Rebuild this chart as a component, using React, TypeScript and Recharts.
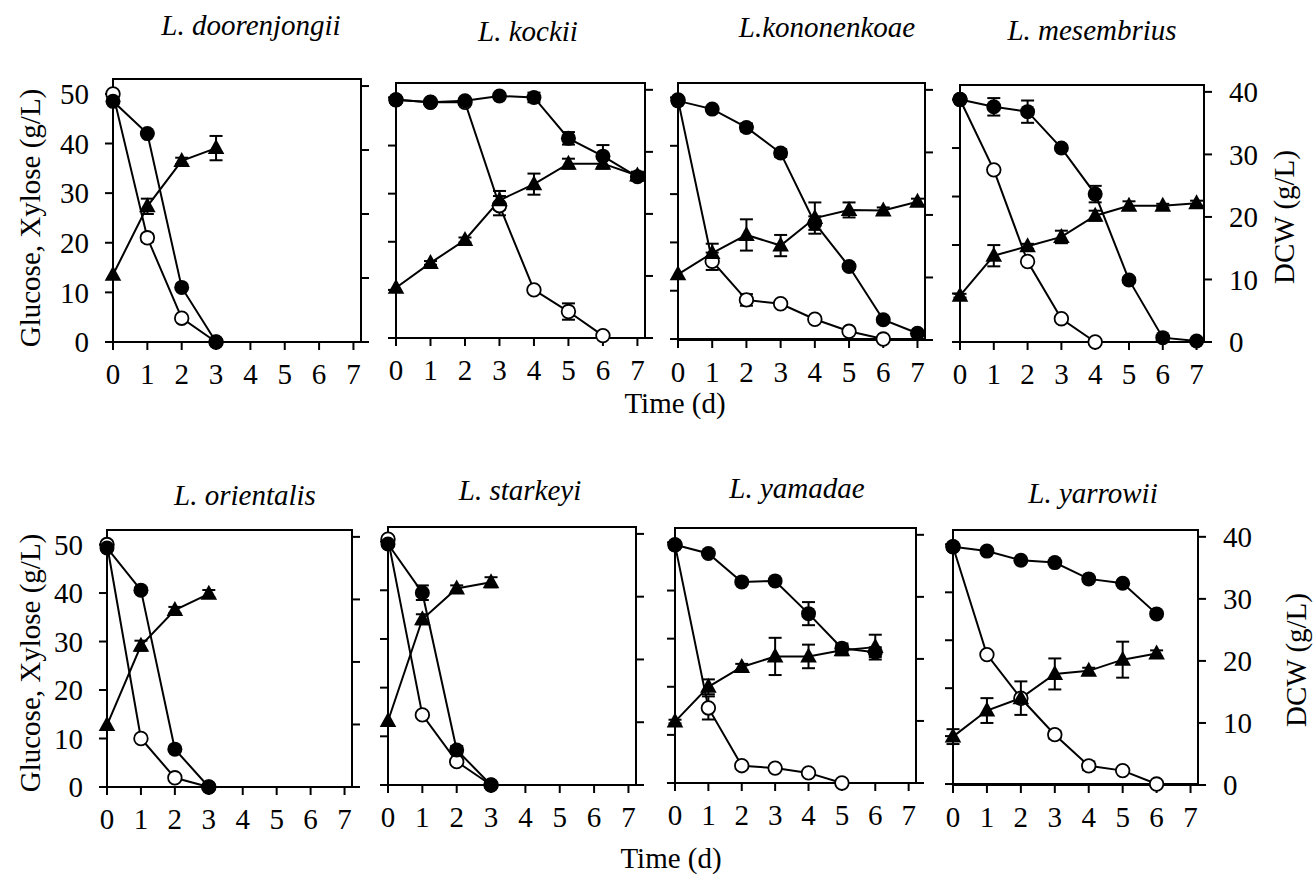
import React from 'react';
import { ComposedChart, Line, XAxis, YAxis, ErrorBar, ReferenceArea } from 'recharts';

const FONT = '"Liberation Serif", "Times New Roman", serif';

const days = [0, 1, 2, 3, 4, 5, 6, 7];
const dayTicks = [0, 1, 2, 3, 4, 5, 6, 7];
const sugarTicks = [0, 10, 20, 30, 40, 50];
const dcwTicks = [0, 10, 20, 30, 40];

// L. doorenjongii
const doorGlc = [50, 21, 4.8, 0];
const doorGlcErr = [0, 0.8, 0, 0];
const doorXyl = [48.5, 42, 11, 0];
const doorXylErr = [0, 0, 0, 0];
const doorDcw = [10.5, 21.2, 28.3, 30.3];
const doorDcwErr = [0, 1.2, 0.5, 1.9];

// L. kockii
const kockGlc = [49.5, 49, 49, 27.5, 10, 5.5, 0.5];
const kockGlcErr = [0, 0, 0, 2, 0.3, 1.7, 0.3];
const kockXyl = [49.5, 49, 49.3, 50.3, 50, 41.5, 37.8, 33.5];
const kockXylErr = [0, 0.3, 0.3, 0, 1, 1.3, 2.3, 0.8];
const kockDcw = [8.1, 12.1, 15.8, 22.2, 24.8, 28.1, 28.1, 26.2];
const kockDcwErr = [0, 0.3, 0.4, 1.5, 1.7, 0.8, 0.8, 0.6];

// L. kononenkoae
const konoGlc = [49.5, 16.1, 8.1, 7.3, 4.1, 1.6, 0];
const konoGlcErr = [0, 1.8, 1.2, 0.3, 0.3, 0.3, 0.2];
const konoXyl = [49.3, 47.6, 43.8, 38.5, 24, 15, 4, 1.2];
const konoXylErr = [0, 0.3, 0.8, 0.8, 1.4, 0.5, 0.5, 0.3];
const konoDcw = [10.5, 13.9, 16.8, 15.1, 19.5, 20.8, 20.7, 22.1];
const konoDcwErr = [0, 1.5, 2.5, 1.7, 2.5, 1.2, 0.5, 0.5];

// L. mesembrius
const mesGlc = [50, 35.5, 16.6, 4.8, 0];
const mesGlcErr = [0, 0.3, 0, 0.3, 0];
const mesXyl = [50, 48.5, 47.5, 40, 30.5, 12.8, 0.9, 0.2];
const mesXylErr = [0, 1.8, 2.3, 0.5, 1.7, 0.5, 0.3, 0];
const mesDcw = [7.4, 13.8, 15.3, 16.8, 20.2, 21.8, 21.8, 22.2];
const mesDcwErr = [0.3, 1.7, 0.4, 1, 0.8, 0.7, 0.3, 0.4];

// L. orientalis
const oriGlc = [50, 10, 1.9, 0];
const oriGlcErr = [0, 0, 0.3, 0];
const oriXyl = [49.3, 40.6, 7.8, 0];
const oriXylErr = [0, 0.5, 0.3, 0];
const oriDcw = [9.9, 22.6, 28.3, 30.9];
const oriDcwErr = [0, 0.8, 0.5, 0.6];

// L. starkeyi
const starGlc = [50.5, 14.4, 4.8, 0];
const starGlcErr = [0.3, 0.3, 0, 0];
const starXyl = [49.5, 39.5, 7.2, 0];
const starXylErr = [0, 1.5, 0.8, 0];
const starDcw = [10.2, 26.4, 31.3, 32.3];
const starDcwErr = [0, 0.8, 0.5, 0.8];

// L. yamadae
const yamGlc = [49.5, 15.6, 3.6, 3.1, 2.1, 0];
const yamGlcErr = [0, 2.4, 0.3, 0.3, 0.3, 0];
const yamXyl = [49.5, 47.7, 41.8, 42, 35.2, 28, 27.2];
const yamXylErr = [0, 0.3, 0.3, 0.3, 2.4, 1, 1];
const yamDcw = [9.9, 15.5, 18.7, 20.4, 20.4, 21.4, 21.9];
const yamDcwErr = [0.3, 1.2, 0.5, 3, 1.9, 0.8, 2];

// L. yarrowii
const yarGlc = [49.5, 27, 17.9, 10.3, 3.8, 2.8, 0];
const yarGlcErr = [0, 0.4, 0.5, 0.8, 0.9, 0.4, 0.2];
const yarXyl = [49.5, 48.6, 46.7, 46.2, 42.8, 41.9, 35.5];
const yarXylErr = [0, 0.3, 0.3, 0.3, 0.3, 0.3, 0.3];
const yarDcw = [7.8, 12, 14, 17.9, 18.4, 20.2, 21.2];
const yarDcwErr = [1.2, 2, 2.7, 2.5, 0.5, 2.9, 0.5];

const panels = [
  { title: 'L. doorenjongii', glc: doorGlc, glcErr: doorGlcErr, xyl: doorXyl, xylErr: doorXylErr, dcw: doorDcw, dcwErr: doorDcwErr },
  { title: 'L. kockii', glc: kockGlc, glcErr: kockGlcErr, xyl: kockXyl, xylErr: kockXylErr, dcw: kockDcw, dcwErr: kockDcwErr },
  { title: 'L.kononenkoae', glc: konoGlc, glcErr: konoGlcErr, xyl: konoXyl, xylErr: konoXylErr, dcw: konoDcw, dcwErr: konoDcwErr },
  { title: 'L. mesembrius', glc: mesGlc, glcErr: mesGlcErr, xyl: mesXyl, xylErr: mesXylErr, dcw: mesDcw, dcwErr: mesDcwErr },
  { title: 'L. orientalis', glc: oriGlc, glcErr: oriGlcErr, xyl: oriXyl, xylErr: oriXylErr, dcw: oriDcw, dcwErr: oriDcwErr },
  { title: 'L. starkeyi', glc: starGlc, glcErr: starGlcErr, xyl: starXyl, xylErr: starXylErr, dcw: starDcw, dcwErr: starDcwErr },
  { title: 'L. yamadae', glc: yamGlc, glcErr: yamGlcErr, xyl: yamXyl, xylErr: yamXylErr, dcw: yamDcw, dcwErr: yamDcwErr },
  { title: 'L. yarrowii', glc: yarGlc, glcErr: yarGlcErr, xyl: yarXyl, xylErr: yarXylErr, dcw: yarDcw, dcwErr: yarDcwErr },
];

// plot boxes on the page: [left, top, right, bottom]
const boxes = [
  [113, 79, 361, 342],
  [396, 83, 645, 338],
  [678, 83, 925, 340],
  [960, 85, 1204, 342],
  [107, 530, 352, 787],
  [388, 527, 636, 785],
  [675, 528, 916, 783],
  [953, 530, 1198, 785],
];
// title centre x and baseline y
const titlePos = [
  [251, 35], [528, 41], [827, 37], [1092, 40],
  [245, 505], [520, 500], [797, 498], [1093, 503],
];

const SUGAR_MAX = 53;
const DCW_MAX = 41.1;
const DAY_MAX = 7.22;
const PAD_T = 10;
const AX_W = 60;
const AX_H = 50;

const tickStyle = { fill: '#000', fontSize: 29, fontFamily: FONT };
const lineStyle = { stroke: '#000', strokeWidth: 2 };
const noLabel = () => <g />;

const FilledDot = (props: any) => {
  const { cx, cy, value } = props;
  if (value == null || cx == null || cy == null) return <g />;
  return <circle cx={cx} cy={cy} r={7.5} fill="#000" />;
};

const OpenDot = (props: any) => {
  const { cx, cy, value } = props;
  if (value == null || cx == null || cy == null) return <g />;
  return <circle cx={cx} cy={cy} r={6.8} fill="#fff" stroke="#000" strokeWidth={1.8} />;
};

const TriDot = (props: any) => {
  const { cx, cy, value } = props;
  if (value == null || cx == null || cy == null) return <g />;
  return <polygon points={`${cx},${cy - 9} ${cx + 8.3},${cy + 6} ${cx - 8.3},${cy + 6}`} fill="#000" />;
};

function buildRows(p: any) {
  return days.map((d, i) => ({
    day: d,
    glc: p.glc[i],
    glcErr: p.glcErr[i],
    xyl: p.xyl[i],
    xylErr: p.xylErr[i],
    dcw: p.dcw[i],
    dcwErr: p.dcwErr[i],
  }));
}

function Panel({ p, box, leftLabels, rightLabels }: any) {
  const [x0, y0, x1, y1] = box;
  const w = x1 - x0 + AX_W * 2;
  const h = y1 - y0 + PAD_T + AX_H;
  const rows = buildRows(p);
  return (
    <div style={{ position: 'absolute', left: x0 - AX_W, top: y0 - PAD_T }}>
      <ComposedChart width={w} height={h} data={rows} margin={{ top: PAD_T, right: 0, bottom: 0, left: 0 }}>
        <XAxis
          dataKey="day"
          type="number"
          domain={[0, DAY_MAX]}
          ticks={dayTicks}
          interval={0}
          height={AX_H}
          tickSize={8}
          tickMargin={13}
          axisLine={lineStyle}
          tickLine={lineStyle}
          tick={tickStyle}
        />
        <YAxis
          yAxisId="left"
          type="number"
          domain={[0, SUGAR_MAX]}
          ticks={sugarTicks}
          interval={0}
          width={AX_W}
          tickSize={8}
          tickMargin={16}
          axisLine={lineStyle}
          tickLine={lineStyle}
          tick={leftLabels ? tickStyle : noLabel}
        />
        <YAxis
          yAxisId="right"
          orientation="right"
          type="number"
          domain={[0, DCW_MAX]}
          ticks={dcwTicks}
          interval={0}
          width={AX_W}
          tickSize={8}
          tickMargin={17}
          axisLine={lineStyle}
          tickLine={lineStyle}
          tick={rightLabels ? tickStyle : noLabel}
        />
        <ReferenceArea
          yAxisId="left"
          x1={0}
          x2={DAY_MAX}
          y1={0}
          y2={SUGAR_MAX}
          fill="none"
          fillOpacity={0}
          stroke="#000"
          strokeWidth={2}
          ifOverflow="visible"
        />
        <Line yAxisId="left" dataKey="glc" type="linear" stroke="#000" strokeWidth={2} dot={OpenDot} activeDot={false} isAnimationActive={false} />
        <Line yAxisId="right" dataKey="dcw" type="linear" stroke="#000" strokeWidth={2} dot={TriDot} activeDot={false} isAnimationActive={false} />
        <Line yAxisId="left" dataKey="xyl" type="linear" stroke="#000" strokeWidth={2} dot={FilledDot} activeDot={false} isAnimationActive={false} />
        {/* error bars drawn on top of the markers, as in the original figure */}
        <Line yAxisId="left" dataKey="glc" stroke="none" dot={false} activeDot={false} isAnimationActive={false}>
          <ErrorBar dataKey="glcErr" direction="y" width={6.5} stroke="#000" strokeWidth={2} />
        </Line>
        <Line yAxisId="right" dataKey="dcw" stroke="none" dot={false} activeDot={false} isAnimationActive={false}>
          <ErrorBar dataKey="dcwErr" direction="y" width={6.5} stroke="#000" strokeWidth={2} />
        </Line>
        <Line yAxisId="left" dataKey="xyl" stroke="none" dot={false} activeDot={false} isAnimationActive={false}>
          <ErrorBar dataKey="xylErr" direction="y" width={6.5} stroke="#000" strokeWidth={2} />
        </Line>
      </ComposedChart>
    </div>
  );
}

const textBase: React.CSSProperties = {
  position: 'absolute',
  fontFamily: FONT,
  fontSize: 29,
  lineHeight: '29px',
  color: '#000',
  whiteSpace: 'nowrap',
};

function Rotated({ text, cx, cy }: any) {
  return (
    <div style={{ ...textBase, left: cx, top: cy, transform: 'translate(-50%, -50%) rotate(-90deg)' }}>{text}</div>
  );
}

export default function App() {
  return (
    <div style={{ position: 'absolute', left: 0, top: 0, width: 1315, height: 880, background: '#fff' }}>
      {panels.map((p, i) => (
        <Panel key={p.title} p={p} box={boxes[i]} leftLabels={i % 4 === 0} rightLabels={i % 4 === 3} />
      ))}
      {panels.map((p, i) => (
        <div
          key={'t' + i}
          style={{ ...textBase, fontStyle: 'italic', left: titlePos[i][0] - 150, width: 300, textAlign: 'center', top: titlePos[i][1] - 24 }}
        >
          {p.title}
        </div>
      ))}
      <Rotated text="Glucose, Xylose (g/L)" cx={30} cy={218} />
      <Rotated text="Glucose, Xylose (g/L)" cx={30} cy={663} />
      <Rotated text="DCW (g/L)" cx={1284} cy={217} />
      <Rotated text="DCW (g/L)" cx={1296} cy={660} />
      <div style={{ ...textBase, left: 575, width: 200, textAlign: 'center', top: 389 }}>Time (d)</div>
      <div style={{ ...textBase, left: 571, width: 200, textAlign: 'center', top: 844 }}>Time (d)</div>
    </div>
  );
}
